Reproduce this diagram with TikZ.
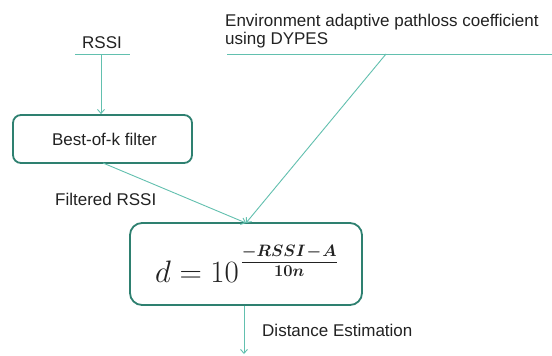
\RequirePackage{fix-cm}
\documentclass[tikz,border=0pt]{standalone}
\usepackage{fontspec}
\setmainfont{Liberation Sans}
\usetikzlibrary{arrows.meta}
\definecolor{conn}{HTML}{62C0AF}
\definecolor{boxc}{HTML}{2E8070}
\definecolor{txt}{HTML}{222222}
\newcommand{\expfrac}[2]{{\fontsize{16.5}{18}\selectfont\boldmath\medmuskip=1mu\setlength{\arrayrulewidth}{1.2pt}\setlength{\tabcolsep}{0pt}%
  \begin{tabular}[b]{@{}c@{}}\rule[-2.5pt]{0pt}{0pt}$#1$\\\hline\rule{0pt}{11.5pt}$#2$\end{tabular}}}
\begin{document}
\begin{tikzpicture}[x=1pt,y=-1pt,
  lbl/.style={font=\fontsize{17}{18.5}\selectfont, text=txt, inner sep=0pt},
  procbox/.style={draw=boxc, line width=1.8pt, rounded corners=8pt, fill=white},
  conline/.style={draw=conn, line width=0.9pt},
  arr/.style={conline, -{Straight Barb[length=4pt,width=7pt]}}]
\useasboundingbox[fill=white] (0,0) rectangle (552,356);
% inputs
\node[lbl, anchor=base] (rssi) at (102,48) {RSSI};
\draw[conline] (75,54) -- (130,54);
\coordinate (rssiout) at (101,54);
\node[lbl, align=left, anchor=base west] (env) at (225,45) {Environment adaptive pathloss coefficient\\ using DYPES};
\draw[conline] (227,54) -- (552,54);
\coordinate (envout) at (386,54);
% boxes
\node[procbox, minimum width=179pt, minimum height=48pt] (filter) at (102.5,139) {};
\node[lbl, anchor=base] (filtertxt) at (104.5,145) {Best-of-k filter};
\node[procbox, rounded corners=12pt, minimum width=232pt, minimum height=82pt, inner sep=0pt] (formula) at (246,264) {};
\node[inner sep=0pt, anchor=base west, text=txt] (formulatxt) at (155,282)
  {{\fontsize{31}{36}\selectfont $d = 10$}\kern3pt\raisebox{6pt}{\expfrac{-RSSI-A}{10n}}};
% connectors
\coordinate (filterout) at (103,163);
\coordinate (fin) at (246,223);
\draw[arr] (rssiout) -- (filter.north -| rssiout);
\draw[arr] (filterout) -- (fin);
\draw[arr] (envout) -- (fin);
\coordinate (distout) at (244,354);
\draw[arr] (formula.south -| distout) -- (distout);
% labels
\node[lbl, anchor=base west] (flab) at (55,205) {Filtered RSSI};
\node[lbl, anchor=base west] (dlab) at (262,336) {Distance Estimation};
\end{tikzpicture}
\end{document}
